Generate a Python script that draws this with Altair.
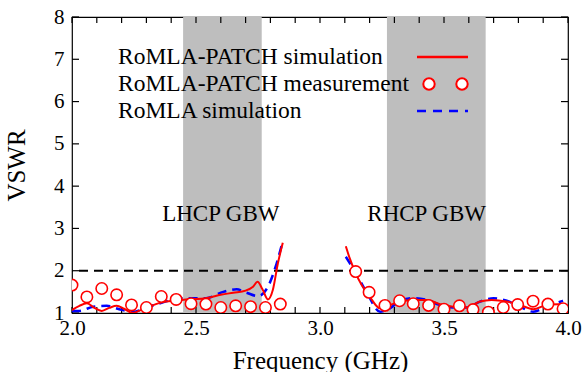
import altair as alt
import pandas as pd

# ---------------- data ----------------
x_tick_values = [2.0, 2.1, 2.2, 2.3, 2.4, 2.5, 2.6, 2.7, 2.8, 2.9, 3.0,
                 3.1, 3.2, 3.3, 3.4, 3.5, 3.6, 3.7, 3.8, 3.9, 4.0]
y_tick_values = [1, 2, 3, 4, 5, 6, 7, 8]

band_lo = [2.448, 3.270]
band_hi = [2.765, 3.668]
band_names = ["LHCP GBW", "RHCP GBW"]
band_label_x = [2.60, 3.43]
band_label_y = [3.35, 3.35]

ref_vswr = [2.0]

# RoMLA-PATCH simulation (two segments)
patch_sim_f1 = [2.0, 2.03, 2.06, 2.09, 2.12, 2.15, 2.18, 2.21, 2.245, 2.27, 2.30, 2.355,
                2.41, 2.46, 2.54, 2.60, 2.65, 2.70, 2.73, 2.748, 2.768, 2.79, 2.81, 2.83, 2.85]
patch_sim_v1 = [1.07, 1.17, 1.23, 1.12, 1.05, 1.12, 1.17, 1.10, 1.0, 1.05, 1.12, 1.24,
                1.29, 1.32, 1.35, 1.43, 1.48, 1.53, 1.62, 1.74, 1.56, 1.32, 1.55, 2.17, 2.66]
patch_sim_f2 = [3.104, 3.12, 3.141, 3.168, 3.20, 3.242, 3.282, 3.323, 3.376, 3.43, 3.484,
                3.537, 3.591, 3.645, 3.692, 3.753, 3.806, 3.86, 3.914, 3.98]
patch_sim_v2 = [2.58, 2.29, 1.98, 1.66, 1.39, 1.11, 1.19, 1.27, 1.31, 1.31, 1.21,
                1.15, 1.13, 1.27, 1.31, 1.27, 1.19, 1.09, 1.19, 1.21]

# RoMLA simulation (two segments)
romla_sim_f1 = [2.0, 2.03, 2.086, 2.14, 2.19, 2.247, 2.30, 2.355, 2.41, 2.46, 2.54,
                2.61, 2.664, 2.704, 2.75, 2.79, 2.825, 2.846]
romla_sim_v1 = [1.05, 1.05, 1.15, 1.17, 1.09, 1.03, 1.13, 1.23, 1.32, 1.35, 1.35,
                1.50, 1.56, 1.48, 1.40, 1.62, 2.17, 2.61]
romla_sim_f2 = [3.104, 3.141, 3.19, 3.242, 3.282, 3.323, 3.376, 3.43, 3.484, 3.537, 3.59,
                3.645, 3.70, 3.753, 3.806, 3.86, 3.914, 3.98]
romla_sim_v2 = [2.33, 1.98, 1.47, 1.03, 1.11, 1.29, 1.35, 1.31, 1.19, 1.13, 1.13,
                1.27, 1.35, 1.29, 1.15, 1.03, 1.15, 1.29]

# RoMLA-PATCH measurement
meas_f = [2.0, 2.06, 2.12, 2.18, 2.24, 2.30, 2.36, 2.42, 2.48, 2.54, 2.60, 2.66, 2.72, 2.78, 2.84,
          3.144, 3.198, 3.262, 3.321, 3.376, 3.438, 3.50, 3.562, 3.617, 3.679, 3.739, 3.797,
          3.859, 3.919, 3.98]
meas_v = [1.66, 1.38, 1.58, 1.43, 1.19, 1.13, 1.39, 1.32, 1.22, 1.21, 1.13, 1.17, 1.15, 1.13, 1.21,
          1.98, 1.49, 1.18, 1.29, 1.22, 1.18, 1.09, 1.17, 1.08, 1.02, 1.13, 1.20,
          1.28, 1.21, 1.10]

legend_labels = ["RoMLA-PATCH simulation", "RoMLA-PATCH measurement", "RoMLA simulation"]

# ---------------- tables ----------------
bands = pd.DataFrame({"lo": band_lo, "hi": band_hi, "name": band_names,
                      "lx": band_label_x, "ly": band_label_y})
ref = pd.DataFrame({"v": ref_vswr})
patch_sim = pd.DataFrame({
    "f": patch_sim_f1 + patch_sim_f2,
    "v": patch_sim_v1 + patch_sim_v2,
    "seg": ["a"] * len(patch_sim_f1) + ["b"] * len(patch_sim_f2),
})
romla_sim = pd.DataFrame({
    "f": romla_sim_f1 + romla_sim_f2,
    "v": romla_sim_v1 + romla_sim_v2,
    "seg": ["a"] * len(romla_sim_f1) + ["b"] * len(romla_sim_f2),
})
meas = pd.DataFrame({"f": meas_f, "v": meas_v})
xt = pd.DataFrame({"t": x_tick_values})
yt = pd.DataFrame({"t": y_tick_values})
one = pd.DataFrame({"k": [0]})

W, H = 496, 296
FONT = "Liberation Serif"
RED = "#ff0000"
BLUE = "#0000ff"
XT, YT = 6, 7  # inward tick lengths

xs = alt.Scale(domain=[2.0, 4.0], nice=False, zero=False)
ys = alt.Scale(domain=[1, 8], nice=False, zero=False)

label_expr = ("abs(datum.value*2 - round(datum.value*2)) < 0.001 ? "
              "format(datum.value, '.1f') : ''")

AX = alt.Axis(values=x_tick_values, labelExpr=label_expr, orient="bottom",
              ticks=False, domain=False, grid=False, labelPadding=4,
              labelFont=FONT, labelFontSize=21, labelColor="black",
              labelOverlap=False, labelFlush=False,
              title="Frequency (GHz)", titleFont=FONT, titleFontSize=25,
              titleFontWeight="normal", titleColor="black", titlePadding=10)
AY = alt.Axis(values=y_tick_values, orient="left", ticks=False, domain=False,
              grid=False, labelPadding=8, labelFont=FONT, labelFontSize=21,
              labelColor="black", labelFlush=False,
              title="VSWR", titleFont=FONT, titleFontSize=25, titleFontWeight="normal",
              titleColor="black", titlePadding=24)


def X(field):
    return alt.X(field, type="quantitative", scale=xs, axis=AX)


def Y(field):
    return alt.Y(field, type="quantitative", scale=ys, axis=AY)


band_layer = alt.Chart(bands).mark_rect(color="#bebebe").encode(
    x=X("lo"), x2="hi",
    y=alt.datum(1, scale=ys, axis=AY), y2=alt.datum(8),
)

band_text = alt.Chart(bands).mark_text(font=FONT, fontSize=23, color="black",
                                       align="center", baseline="middle").encode(
    x=X("lx"), y=Y("ly"), text="name:N",
)

# inward tick marks on all four sides
tick_style = dict(color="black", strokeWidth=1.2)
xtick_bottom = alt.Chart(xt).mark_rule(**tick_style).encode(
    x=X("t"), y=alt.value(H), y2=alt.value(H - XT))
xtick_top = alt.Chart(xt).mark_rule(**tick_style).encode(
    x=X("t"), y=alt.value(0), y2=alt.value(XT))
ytick_left = alt.Chart(yt).mark_rule(**tick_style).encode(
    y=Y("t"), x=alt.value(0), x2=alt.value(YT))
ytick_right = alt.Chart(yt).mark_rule(**tick_style).encode(
    y=Y("t"), x=alt.value(W - YT), x2=alt.value(W))

ref_layer = alt.Chart(ref).mark_rule(color="black", strokeWidth=2,
                                     strokeDash=[9, 6]).encode(y=Y("v"))

blue_layer = alt.Chart(romla_sim).mark_line(color=BLUE, strokeWidth=2.5,
                                            strokeDash=[9, 6], interpolate="monotone",
                                            clip=True).encode(
    x=X("f"), y=Y("v"), detail="seg:N",
)

red_layer = alt.Chart(patch_sim).mark_line(color=RED, strokeWidth=2,
                                           interpolate="monotone", clip=True).encode(
    x=X("f"), y=Y("v"), detail="seg:N",
)

meas_layer = alt.Chart(meas).mark_point(shape="circle", size=130, filled=True,
                                        fill="white", stroke=RED, strokeWidth=1.6,
                                        opacity=1, clip=True).encode(
    x=X("f"), y=Y("v"),
)

# ---------------- legend ----------------
leg_y = [40, 67, 94]
leg_layers = []
for lab, yy in zip(legend_labels, leg_y):
    leg_layers.append(
        alt.Chart(one).mark_text(font=FONT, fontSize=23.5, color="black", align="left",
                                 baseline="middle", text=lab).encode(
            x=alt.value(46), y=alt.value(yy))
    )
leg_layers.append(
    alt.Chart(one).mark_rule(color=RED, strokeWidth=2.5).encode(
        x=alt.value(345), x2=alt.value(396), y=alt.value(leg_y[0]))
)
for cx in (357, 390):
    leg_layers.append(
        alt.Chart(one).mark_point(shape="circle", size=130, filled=True, fill="white",
                                  stroke=RED, strokeWidth=2, opacity=1).encode(
            x=alt.value(cx), y=alt.value(leg_y[1]))
    )
leg_layers.append(
    alt.Chart(one).mark_rule(color=BLUE, strokeWidth=2.5, strokeDash=[9, 7]).encode(
        x=alt.value(345), x2=alt.value(396), y=alt.value(leg_y[2]))
)

chart = alt.layer(
    band_layer, band_text, xtick_bottom, xtick_top, ytick_left, ytick_right,
    ref_layer, blue_layer, red_layer, meas_layer, *leg_layers
).properties(
    width=W, height=H,
    autosize=alt.AutoSizeParams(type="none"),
    padding={"left": 72, "top": 17, "right": 16, "bottom": 59},
    background="white",
).configure_view(
    stroke="black", strokeWidth=1.2
)

chart.save("out.html", embed_options={"renderer": "svg", "actions": False})
